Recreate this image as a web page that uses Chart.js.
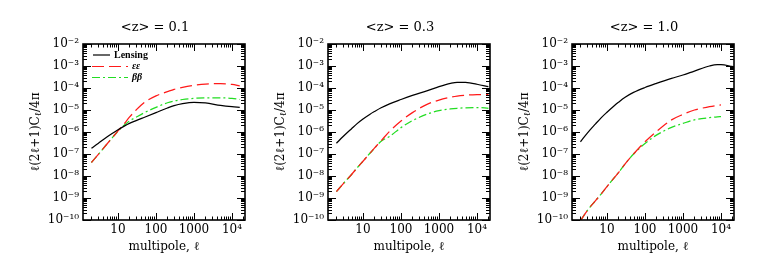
<!DOCTYPE html>
<html>
<head>
<meta charset="utf-8">
<script src="https://cdn.jsdelivr.net/npm/chart.js@4"></script>
<style>
  body { margin: 0; background: #fff; width: 775px; height: 254px; position: relative; overflow: hidden; }
  canvas { position: absolute; top: 0; }
</style>
</head>
<body>
<canvas id="c1" width="252" height="254" style="left:0px"></canvas>
<canvas id="c2" width="252" height="254" style="left:245px"></canvas>
<canvas id="c3" width="252" height="254" style="left:489px"></canvas>
<script>
// values
const titles = ["<z> = 0.1", "<z> = 0.3", "<z> = 1.0"];
const seriesNames = ["Lensing", "εε", "ββ"];

const ell1 = [2, 3, 5, 7, 10, 15, 20, 30, 50, 100, 200, 300, 500, 1000, 2000, 5000, 10000, 16000];
const lens1 = [1.82e-7, 3.0e-7, 5.75e-7, 8.5e-7, 1.26e-6, 1.9e-6, 2.45e-6, 3.3e-6, 4.7e-6, 7.6e-6, 1.23e-5, 1.58e-5, 1.95e-5, 2.24e-5, 2.1e-5, 1.62e-5, 1.41e-5, 1.32e-5];
const ee1 = [4.1e-8, 9.3e-8, 2.7e-7, 5.4e-7, 1.12e-6, 2.5e-6, 4.7e-6, 1.0e-5, 2.24e-5, 4.4e-5, 6.8e-5, 8.7e-5, 1.07e-4, 1.32e-4, 1.51e-4, 1.58e-4, 1.45e-4, 1.26e-4];
const bb1 = [4.1e-8, 9.3e-8, 2.7e-7, 5.4e-7, 1.07e-6, 2.14e-6, 3.16e-6, 4.7e-6, 7.6e-6, 1.32e-5, 2.14e-5, 2.57e-5, 3.0e-5, 3.4e-5, 3.6e-5, 3.6e-5, 3.4e-5, 3.0e-5];

const ell2 = [2, 3, 5, 7, 10, 15, 20, 30, 50, 100, 200, 500, 1000, 2000, 3000, 5000, 10000, 20000];
const lens2 = [3.1e-7, 6.2e-7, 1.41e-6, 2.4e-6, 3.9e-6, 6.3e-6, 8.5e-6, 1.26e-5, 1.9e-5, 3.0e-5, 4.6e-5, 7.6e-5, 1.15e-4, 1.62e-4, 1.82e-4, 1.78e-4, 1.48e-4, 1.15e-4];
const ee2 = [1.95e-9, 4.4e-9, 1.17e-8, 2.34e-8, 4.7e-8, 1.05e-7, 1.86e-7, 4.0e-7, 1.07e-6, 3.16e-6, 7.6e-6, 1.86e-5, 2.82e-5, 3.8e-5, 4.3e-5, 4.7e-5, 5.0e-5, 5.1e-5];
const bb2 = [1.95e-9, 4.4e-9, 1.17e-8, 2.34e-8, 4.7e-8, 1.05e-7, 1.82e-7, 3.8e-7, 6.3e-7, 1.58e-6, 3.3e-6, 6.6e-6, 9.3e-6, 1.12e-5, 1.2e-5, 1.26e-5, 1.29e-5, 1.2e-5];

const ell3 = [2, 3, 5, 7, 10, 15, 20, 30, 50, 100, 200, 500, 1000, 2000, 5000, 8000, 10000, 20000];
const lens3 = [3.6e-7, 8.7e-7, 2.34e-6, 4.4e-6, 7.9e-6, 1.48e-5, 2.24e-5, 3.8e-5, 6.3e-5, 1.05e-4, 1.62e-4, 2.75e-4, 3.9e-4, 5.9e-4, 1.0e-3, 1.15e-3, 1.15e-3, 9.5e-4];
const ee3 = [9.3e-11, 2.63e-10, 7.6e-10, 1.51e-9, 3.3e-9, 7.8e-9, 1.41e-8, 3.55e-8, 1.0e-7, 3.6e-7, 1.05e-6, 3.55e-6, 6.3e-6, 1.0e-5, 1.41e-5, 1.62e-5, 1.7e-5, null];
const bb3 = [9.3e-11, 2.63e-10, 7.6e-10, 1.51e-9, 3.3e-9, 7.8e-9, 1.41e-8, 3.55e-8, 1.0e-7, 3.0e-7, 7.2e-7, 1.62e-6, 2.45e-6, 3.55e-6, 4.5e-6, 4.9e-6, 5.0e-6, null];

const xMin = 1.2, xMax = 2.2e4;
const yMin = 1e-10, yMax = 1e-2;

const colors = ["#000000", "#ff1a1a", "#22dd22"];
const dashes = [[], [12, 5], [8, 3, 2, 3]];

const SUP = { "-": "⁻", "0": "⁰", "1": "¹", "2": "²", "3": "³", "4": "⁴", "5": "⁵", "6": "⁶", "7": "⁷", "8": "⁸", "9": "⁹" };
function supText(n) { return String(n).split("").map(c => SUP[c]).join(""); }
function isDecade(v) { const l = Math.log10(v); return Math.abs(l - Math.round(l)) < 1e-6; }

function logTicks(min, max) {
  const out = [];
  for (let e = Math.floor(Math.log10(min)); e <= Math.ceil(Math.log10(max)); e++) {
    for (let m = 1; m < 10; m++) {
      const v = m * Math.pow(10, e);
      if (v >= min * 0.9999 && v <= max * 1.0001) out.push({ value: v });
    }
  }
  return out;
}

Chart.defaults.font.family = "'DejaVu Serif', serif";
Chart.defaults.color = "#000";

// box round the plot, inward ticks on all four sides, title and y label
const frameTicks = {
  id: "frameTicks",
  afterDraw(chart, args, opts) {
    const { ctx, chartArea: a, scales } = chart;
    ctx.save();
    ctx.strokeStyle = "#000";
    ctx.lineWidth = 1;
    ctx.beginPath();
    scales.x.ticks.forEach(t => {
      const px = Math.round(scales.x.getPixelForValue(t.value)) + 0.5;
      const len = isDecade(t.value) ? 7 : 3.5;
      ctx.moveTo(px, a.bottom); ctx.lineTo(px, a.bottom - len);
      ctx.moveTo(px, a.top); ctx.lineTo(px, a.top + len);
    });
    scales.y.ticks.forEach(t => {
      const py = Math.round(scales.y.getPixelForValue(t.value)) + 0.5;
      const len = isDecade(t.value) ? 8 : 4;
      ctx.moveTo(a.left, py); ctx.lineTo(a.left + len, py);
      ctx.moveTo(a.right, py); ctx.lineTo(a.right - len, py);
    });
    ctx.stroke();
    ctx.lineWidth = 1.6;
    ctx.strokeRect(a.left, a.top, a.right - a.left, a.bottom - a.top);

    ctx.fillStyle = "#000";
    ctx.font = "13px 'DejaVu Serif'";
    ctx.textAlign = "center";
    ctx.textBaseline = "middle";
    ctx.fillText(opts.title, (a.left + a.right) / 2 - 9, 28);

    // y axis label with subscript
    ctx.textAlign = "left";
    ctx.translate(36, (a.top + a.bottom) / 2);
    ctx.rotate(-Math.PI / 2);
    const big = "12px 'DejaVu Serif'", small = "9px 'DejaVu Serif'";
    const parts = [["ℓ(2ℓ+1)C", big, 0], ["ℓ", small, 3], ["/4π", big, 0]];
    let w = 0;
    parts.forEach(p => { ctx.font = p[1]; w += ctx.measureText(p[0]).width; });
    let x = -w / 2;
    parts.forEach(p => {
      ctx.font = p[1];
      ctx.fillText(p[0], x, p[2]);
      x += ctx.measureText(p[0]).width;
    });
    ctx.restore();
  }
};

const legendBox = {
  id: "legendBox",
  afterDraw(chart) {
    const ctx = chart.ctx;
    const rows = [
      { y: 55, x0: 93, x1: 110, tx: 114, font: "bold 10px 'Liberation Serif'" },
      { y: 66.5, x0: 92, x1: 128, tx: 132, font: "italic bold 10px 'Liberation Serif'" },
      { y: 77.5, x0: 92, x1: 128, tx: 132, font: "italic bold 10px 'Liberation Serif'" }
    ];
    ctx.save();
    rows.forEach((r, i) => {
      ctx.strokeStyle = colors[i];
      ctx.lineWidth = 1.2;
      ctx.setLineDash(dashes[i]);
      ctx.beginPath(); ctx.moveTo(r.x0, r.y); ctx.lineTo(r.x1, r.y); ctx.stroke();
      ctx.setLineDash([]);
      ctx.fillStyle = "#000";
      ctx.font = r.font;
      ctx.textBaseline = "middle";
      ctx.fillText(seriesNames[i], r.tx, r.y);
    });
    ctx.restore();
  }
};

function makeSet(ell, vals, i) {
  const pts = [];
  ell.forEach((l, k) => { if (vals[k] != null) pts.push({ x: l, y: vals[k] }); });
  return {
    label: seriesNames[i],
    data: pts,
    borderColor: colors[i],
    borderWidth: 1.25,
    borderDash: dashes[i],
    pointRadius: 0,
    cubicInterpolationMode: "monotone",
    fill: false
  };
}

function makeChart(id, title, ell, series, withLegend) {
  const plugins = [frameTicks];
  if (withLegend) plugins.push(legendBox);
  return new Chart(document.getElementById(id), {
    type: "line",
    data: { datasets: series.map((v, i) => makeSet(ell, v, i)) },
    options: {
      responsive: false,
      animation: false,
      layout: { padding: { left: 0, right: 7, top: 44, bottom: 0 } },
      plugins: {
        legend: { display: false },
        tooltip: { enabled: false },
        title: { display: false },
        frameTicks: { title: title }
      },
      scales: {
        x: {
          type: "logarithmic",
          min: xMin, max: xMax,
          afterBuildTicks: s => { s.ticks = logTicks(xMin, xMax); },
          afterFit: s => { s.height = 34; },
          grid: { display: false, drawTicks: false },
          border: { display: false },
          ticks: {
            autoSkip: false, maxRotation: 0, padding: 3,
            font: { size: 12 },
            callback: v => {
              if (!isDecade(v)) return "";
              const e = Math.round(Math.log10(v));
              return e >= 4 ? "10" + supText(e) : String(Math.round(v));
            }
          },
          title: { display: true, text: "multipole, ℓ", font: { size: 12 }, padding: { top: 0, bottom: 0 } }
        },
        y: {
          type: "logarithmic",
          min: yMin, max: yMax,
          afterBuildTicks: s => { s.ticks = logTicks(yMin, yMax); },
          afterFit: s => { s.width = 83; },
          grid: { display: false, drawTicks: false },
          border: { display: false },
          ticks: {
            autoSkip: false, padding: 4,
            font: { size: 12 },
            callback: v => isDecade(v) ? "10" + supText(Math.round(Math.log10(v))) : ""
          }
        }
      }
    },
    plugins: plugins
  });
}

makeChart("c1", titles[0], ell1, [lens1, ee1, bb1], true);
makeChart("c2", titles[1], ell2, [lens2, ee2, bb2], false);
makeChart("c3", titles[2], ell3, [lens3, ee3, bb3], false);
</script>
</body>
</html>
